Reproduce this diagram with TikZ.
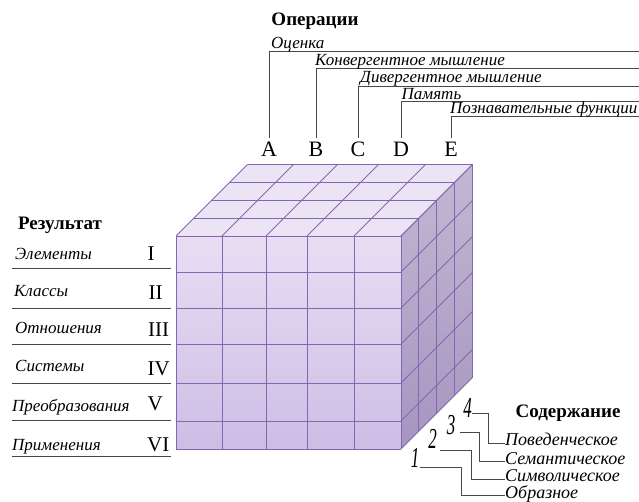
\documentclass[tikz,border=0pt]{standalone}
\usepackage{fontspec}
\setmainfont{Liberation Serif}
\definecolor{cubeline}{HTML}{8467B0}
\definecolor{topface}{HTML}{EAE4F4}
\definecolor{fronttop}{HTML}{E7DEF3}
\definecolor{frontbot}{HTML}{CDBDE5}
\definecolor{sidetop}{HTML}{C2B8D2}
\definecolor{sidebot}{HTML}{A695C0}
\definecolor{guidegray}{HTML}{484848}
\begin{document}
\begin{tikzpicture}[x=1pt,y=-1pt,
  grid/.style={draw=cubeline, line width=0.9pt},
  guide/.style={draw=guidegray, line width=0.9pt},
  lbl/.style={font=\fontsize{17}{17}\selectfont\itshape, inner sep=0pt},
  clbl/.style={font=\fontsize{18}{18}\selectfont\itshape, inner sep=0pt},
  hd/.style={font=\fontsize{19}{19}\selectfont\bfseries, inner sep=0pt},
  letter/.style={font=\fontsize{22}{22}\selectfont, inner xsep=0pt, inner ysep=4pt},
  roman/.style={font=\fontsize{21}{21}\selectfont, inner sep=0pt, anchor=base west},
  num/.style={font=\fontsize{17}{17}\selectfont\itshape, inner sep=0pt}]
\useasboundingbox (0,0) rectangle (639,502);
% ---- cube faces
\fill[topface] (176,236) -- (401,236) -- (472.5,164.5) -- (247.5,164.5) -- cycle;
\shade[top color=fronttop, bottom color=frontbot] (176,236) rectangle (401,449);
\shade[top color=sidetop, bottom color=sidebot] (401,236) -- (472.5,164.5) -- (472.5,377.5) -- (401,449) -- cycle;
% ---- cube grid
\foreach \x in {176,222,266,307,354,401} {
  \draw[grid] (\x,236) -- (\x,449);
  \draw[grid] (\x,236) -- ++(71.5,-71.5);
}
\foreach \y in {236,272,308,344,383,421,449} {
  \draw[grid] (176,\y) -- (401,\y);
  \draw[grid] (401,\y) -- ++(71.5,-71.5);
}
\foreach \k in {0,1,2,3,4} {
  \draw[grid] ({176+17.875*\k},{236-17.875*\k}) -- ++(225,0);
  \draw[grid] ({401+17.875*\k},{236-17.875*\k}) -- ++(0,213);
}
% ---- operations
\node[hd] (ops) at (315,21) {Операции};
\node[letter] (A) at (269,149.5) {A};
\node[letter] (B) at (316,149.5) {B};
\node[letter] (C) at (358,149.5) {C};
\node[letter] (D) at (401,149.5) {D};
\node[letter] (E) at (451,149.5) {E};
\coordinate (eA) at (639,51.7);
\coordinate (eB) at (639,68.3);
\coordinate (eC) at (639,86);
\coordinate (eD) at (639,101);
\coordinate (eE) at (639,116.7);
\draw[guide] (A.north) |- (eA);
\draw[guide] (B.north) |- (eB);
\draw[guide] (C.north) |- (eC);
\draw[guide] (D.north) |- (eD);
\draw[guide] (E.north) |- (eE);
\node[lbl, anchor=base west] (tA) at (271,49) {Оценка};
\node[lbl, anchor=base west] (tB) at (315,65.6) {Конвергентное мышление};
\node[lbl, anchor=base west] (tC) at (360,83) {Дивергентное мышление};
\node[lbl, anchor=base west] (tD) at (401.5,99.5) {Память};
\node[lbl, anchor=base west] (tE) at (450,114) {Познавательные функции};
% ---- results
\node[hd] (res) at (60,225) {Результат};
\node[lbl, anchor=base west] (r1) at (15,259.3) {Элементы};
\node[lbl, anchor=base west] (r2) at (14,296.7) {Классы};
\node[lbl, anchor=base west] (r3) at (15,333.3) {Отношения};
\node[lbl, anchor=base west] (r4) at (15,371.7) {Системы};
\node[lbl, anchor=base west] (r5) at (12,411.7) {Преобразования};
\node[lbl, anchor=base west] (r6) at (12,450) {Применения};
\node[roman] (R1) at (147.5,260.7) {I};
\node[roman] (R2) at (148.5,299.3) {II};
\node[roman] (R3) at (148,336.7) {III};
\node[roman] (R4) at (147.5,375) {IV};
\node[roman] (R5) at (147.5,410.7) {V};
\node[roman] (R6) at (147,451.7) {VI};
\foreach \y in {268,308,344,383,420,456}
  \draw[guide] (12,\y) -- (171,\y);
% ---- content
\node[hd] (cont) at (568,413) {Содержание};
\node[num] (n1) at (415,457.5) {\scalebox{1}[1.7]{1}};
\node[num] (n2) at (432.5,439) {\scalebox{1}[1.7]{2}};
\node[num] (n3) at (451,425.5) {\scalebox{1}[1.7]{3}};
\node[num] (n4) at (467.5,407.5) {\scalebox{1}[1.7]{4}};
\node[clbl, anchor=base west] (c4) at (505,445.7) {Поведенческое};
\node[clbl, anchor=base west] (c3) at (505,464) {Семантическое};
\node[clbl, anchor=base west] (c2) at (505,481.7) {Символическое};
\node[clbl, anchor=base west] (c1) at (505,498.3) {Образное};
\coordinate (k1) at (420,467.3);  \coordinate (j1) at (461.7,495);
\coordinate (k2) at (440,450);    \coordinate (j2) at (471.7,479);
\coordinate (k3) at (460,432.7);  \coordinate (j3) at (479.3,461.7);
\coordinate (k4) at (471.7,413.3);\coordinate (j4) at (488.3,443.3);
\draw[guide] (k1) -| (j1) -- (c1.west |- j1);
\draw[guide] (k2) -| (j2) -- (c2.west |- j2);
\draw[guide] (k3) -| (j3) -- (c3.west |- j3);
\draw[guide] (k4) -| (j4) -- (c4.west |- j4);
\end{tikzpicture}
\end{document}
